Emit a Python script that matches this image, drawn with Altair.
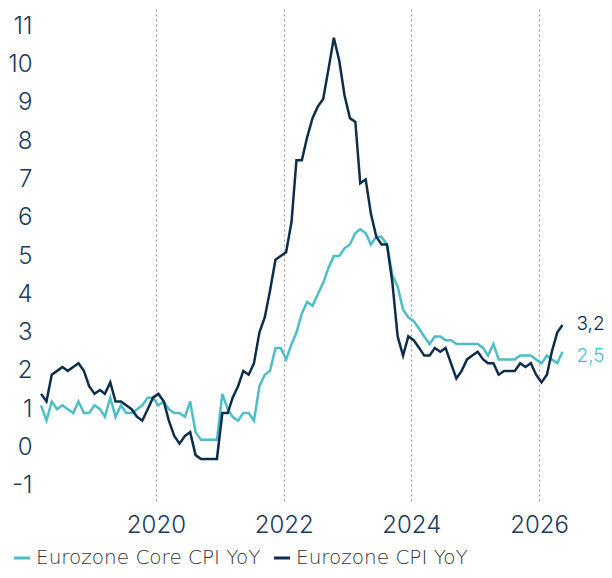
import altair as alt
import pandas as pd

# Monthly observations, Mar 2018 - May 2026 (plotted mid-month)
months = (pd.date_range("2018-03-01", "2026-05-01", freq="MS") + pd.Timedelta(days=14)).strftime("%Y-%m-%d").tolist()

cpi = [
    1.4, 1.2, 1.9, 2.0, 2.1, 2.0, 2.1, 2.2, 2.0, 1.6,                 # 2018 Mar-Dec
    1.4, 1.5, 1.4, 1.7, 1.2, 1.2, 1.1, 1.0, 0.8, 0.7, 1.0, 1.3,       # 2019
    1.4, 1.2, 0.7, 0.3, 0.1, 0.3, 0.4, -0.2, -0.3, -0.3, -0.3, -0.3,  # 2020
    0.9, 0.9, 1.3, 1.6, 2.0, 1.9, 2.2, 3.0, 3.4, 4.1, 4.9, 5.0,       # 2021
    5.1, 5.9, 7.5, 7.5, 8.1, 8.6, 8.9, 9.1, 9.9, 10.7, 10.1, 9.2,     # 2022
    8.6, 8.5, 6.9, 7.0, 6.1, 5.5, 5.3, 5.3, 4.3, 2.9, 2.4, 2.9,       # 2023
    2.8, 2.6, 2.4, 2.4, 2.6, 2.5, 2.6, 2.2, 1.8, 2.0, 2.3, 2.4,       # 2024
    2.5, 2.3, 2.2, 2.2, 1.9, 2.0, 2.0, 2.0, 2.2, 2.1, 2.2, 1.9,       # 2025
    1.7, 1.9, 2.5, 3.0, 3.2,                                          # 2026 Jan-May
]

core = [
    1.1, 0.7, 1.2, 1.0, 1.1, 1.0, 0.9, 1.2, 0.9, 0.9,                 # 2018 Mar-Dec
    1.1, 1.0, 0.8, 1.3, 0.8, 1.1, 0.9, 0.9, 1.0, 1.1, 1.3, 1.3,       # 2019
    1.1, 1.2, 1.0, 0.9, 0.9, 0.8, 1.2, 0.4, 0.2, 0.2, 0.2, 0.2,       # 2020
    1.4, 1.0, 0.8, 0.7, 0.9, 0.9, 0.7, 1.6, 1.9, 2.0, 2.6, 2.6,       # 2021
    2.3, 2.7, 3.0, 3.5, 3.8, 3.7, 4.0, 4.3, 4.7, 5.0, 5.0, 5.2,       # 2022
    5.3, 5.6, 5.7, 5.6, 5.3, 5.5, 5.5, 5.3, 4.5, 4.2, 3.6, 3.4,       # 2023
    3.3, 3.1, 2.9, 2.7, 2.9, 2.9, 2.8, 2.8, 2.7, 2.7, 2.7, 2.7,       # 2024
    2.7, 2.6, 2.4, 2.7, 2.3, 2.3, 2.3, 2.3, 2.4, 2.4, 2.4, 2.3,       # 2025
    2.2, 2.4, 2.3, 2.2, 2.5,                                          # 2026 Jan-May
]

names = ["Eurozone Core CPI YoY", "Eurozone CPI YoY"]
colors = ["#4dbdc6", "#0c2d4c"]
year_ticks = [2020, 2022, 2024, 2026]
y_ticks = list(range(-1, 12))

df = pd.DataFrame({
    "date": months + months,
    "value": core + cpi,
    "series": [names[0]] * len(core) + [names[1]] * len(cpi),
})

last_df = pd.DataFrame({
    "date": [months[-1], months[-1]],
    "value": [core[-1], cpi[-1]],
    "series": names,
})

FONT = "Inter"
LEG_FONT = "DejaVu Sans"
WEIGHT = 300
NAVY = "#1b3a5c"

x_enc = alt.X(
    "date:T",
    scale=alt.Scale(
        type="utc",
        domain=[alt.DateTime(year=2018, month=2, date=14, utc=True),
                alt.DateTime(year=2026, month=6, date=27, utc=True)],
    ),
    axis=alt.Axis(
        values=[alt.DateTime(year=y, month=1, date=1, utc=True) for y in year_ticks],
        format="%Y", title=None, grid=True, gridDash=[2, 3], gridColor="#9c9c9c",
        gridWidth=1.3, ticks=False, domain=False, labelFontSize=24, labelColor=NAVY,
        labelPadding=10, labelFont=FONT, labelFontWeight=WEIGHT,
    ),
)
y_enc = alt.Y(
    "value:Q",
    scale=alt.Scale(domain=[-1.45, 11.45], nice=False, zero=False),
    axis=alt.Axis(
        values=y_ticks, labelExpr="'' + datum.value", title=None, grid=False,
        ticks=False, domain=False, labelFontSize=24, labelColor=NAVY, labelPadding=4,
        labelFont=FONT, labelFontWeight=WEIGHT,
    ),
)

lines = alt.Chart(df).mark_line(strokeWidth=2.5).encode(
    x=x_enc,
    y=y_enc,
    color=alt.Color(
        "series:N",
        scale=alt.Scale(domain=names, range=colors),
        legend=alt.Legend(
            title=None, orient="none", legendX=-24, legendY=539, direction="horizontal",
            symbolType="stroke", symbolStrokeWidth=3, symbolSize=256, labelFontSize=20,
            labelFont=LEG_FONT, labelFontWeight=WEIGHT, labelColor="#333333", labelOffset=4,
            columnPadding=7, padding=0, labelLimit=400,
        ),
    ),
    detail="series:N",
)

def end_label(i, dy):
    return alt.Chart(last_df).transform_filter(
        alt.datum.series == names[i]
    ).transform_calculate(
        label="replace(format(datum.value, '.1f'), '.', ',')"
    ).mark_text(
        align="left", baseline="middle", dx=14, dy=dy, fontSize=19, font=FONT,
        fontWeight=WEIGHT, color=colors[i],
    ).encode(x="date:T", y="value:Q", text="label:N")

chart = alt.layer(lines, end_label(1, -1), end_label(0, 4)).properties(
    width=534, height=494,
    autosize=alt.AutoSizeParams(type="none"),
    padding={"left": 28, "top": 1, "right": 34, "bottom": 67},
).configure(font=FONT).configure_view(stroke=None)

chart.save("out.html", embed_options={"renderer": "svg", "actions": False})
